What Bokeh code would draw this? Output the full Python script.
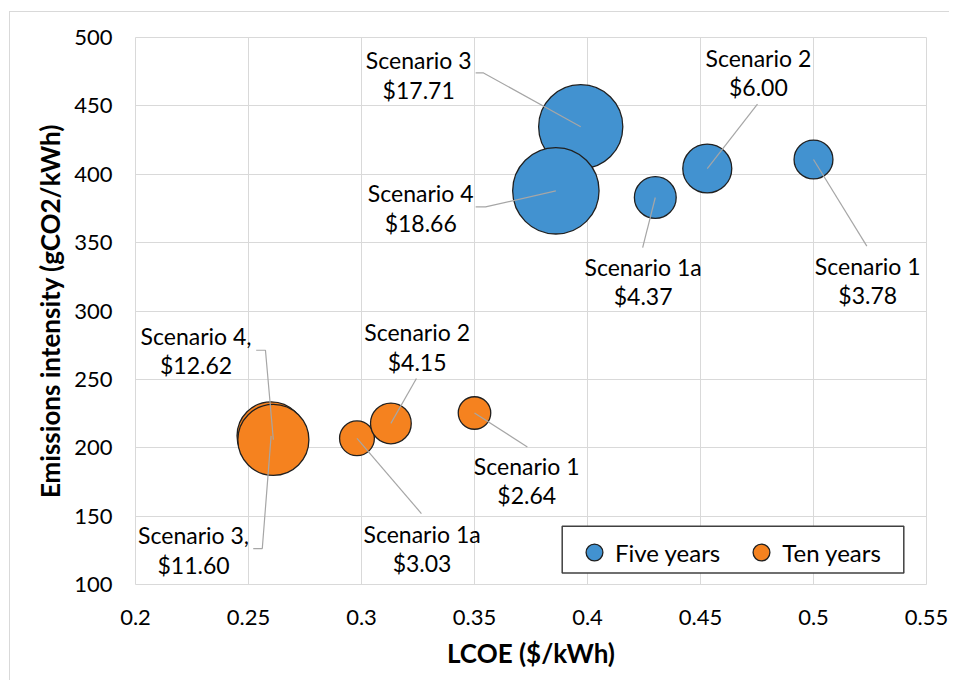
import math
from bokeh.plotting import figure
from bokeh.models import (ColumnDataSource, Legend, LegendItem, FixedTicker,
                          BoxAnnotation, Range1d)
from bokeh.core.properties import value
from bokeh.embed import file_html
from bokeh.resources import INLINE

# ---------------- data ----------------
scenarios = ["Scenario 1", "Scenario 1a", "Scenario 2", "Scenario 3", "Scenario 4"]

five_lcoe = [0.500, 0.430, 0.453, 0.397, 0.386]
five_emis = [410.8, 383.0, 404.2, 434.7, 387.9]
five_cost = [3.78, 4.37, 6.00, 17.71, 18.66]

ten_lcoe = [0.350, 0.298, 0.313, 0.260, 0.261]
ten_emis = [225.4, 206.9, 217.8, 208.7, 205.8]
ten_cost = [2.64, 3.03, 4.15, 11.60, 12.62]

five_names = ["Scenario 1", "Scenario 1a", "Scenario 2", "Scenario 3", "Scenario 4"]
ten_names = ["Scenario 1", "Scenario 1a", "Scenario 2", "Scenario 3,", "Scenario 4,"]

series_names = ["Five years", "Ten years"]

x_ticks = [0.2, 0.25, 0.3, 0.35, 0.4, 0.45, 0.5, 0.55]
x_tick_labels = ["0.2", "0.25", "0.3", "0.35", "0.4", "0.45", "0.5", "0.55"]
y_ticks = [100, 150, 200, 250, 300, 350, 400, 450, 500]
y_tick_labels = ["100", "150", "200", "250", "300", "350", "400", "450", "500"]

# ------------- label layout (data coords of label centres / leader starts) -------------
five_label_x = [0.5240, 0.4246, 0.4756, 0.3253, 0.3262]
five_label_y = [322.5, 321.6, 474.6, 472.7, 375.4]
five_leader = [[(0.5236, 347.4)], [(0.4244, 346.4)], [(0.4752, 451.2)],
               [(0.3505, 474.1), (0.3540, 474.1)], [(0.3505, 376.1), (0.3549, 376.1)]]

ten_label_x = [0.3731, 0.3268, 0.3246, 0.2257, 0.2268]
ten_label_y = [176.1, 126.3, 273.7, 125.3, 271.3]
ten_leader = [[(0.3734, 200.6)], [(0.3265, 151.9)], [(0.3243, 250.6)],
              [(0.2521, 126.3), (0.2561, 126.3)], [(0.2534, 271.3), (0.2575, 271.3)]]

# ---------------- styles ----------------
BLUE = "#4292d0"
ORANGE = "#f5821f"
FONT = "Lato"
GRID = "#d9d9d9"
LEADER = "#a6a6a6"

p = figure(frame_width=791, frame_height=547,
           x_range=Range1d(0.2, 0.55), y_range=Range1d(100, 500),
           output_backend="svg", toolbar_location=None,
           min_border_left=125, min_border_top=25, min_border_right=23,
           min_border_bottom=96)
p.margin = (11, 0, 0, 9)
p.styles = {"border-left": "1px solid #d9d9d9", "border-top": "1px solid #d9d9d9"}
p.outline_line_color = GRID
p.background_fill_color = "white"
p.border_fill_color = "white"

for ax, ticks, labels in ((p.xaxis, x_ticks, x_tick_labels), (p.yaxis, y_ticks, y_tick_labels)):
    ax.ticker = FixedTicker(ticks=ticks)
    ax.major_label_overrides = {t: l for t, l in zip(ticks, labels)}
    ax.axis_line_color = None
    ax.major_tick_line_color = None
    ax.minor_tick_line_color = None
    ax.major_tick_out = 0
    ax.major_tick_in = 0
    ax.major_label_text_font = FONT
    ax.major_label_text_font_size = "22px"
    ax.major_label_text_color = "#000000"
    ax.axis_label_text_font = FONT
    ax.axis_label_text_font_size = "26px"
    ax.axis_label_text_font_style = "bold"
    ax.axis_label_text_color = "#000000"

p.xaxis.major_label_standoff = 25
p.yaxis.major_label_standoff = 23
p.xaxis.axis_label = "LCOE ($/kWh)"
p.yaxis.axis_label = "Emissions intensity (gCO2/kWh)"
p.xaxis.axis_label_standoff = 9
p.yaxis.axis_label_standoff = 5

p.xgrid.grid_line_color = GRID
p.ygrid.grid_line_color = GRID
p.xgrid.grid_line_width = 1
p.ygrid.grid_line_width = 1

renderers = []
for lcoe, emis, cost, color in ((five_lcoe, five_emis, five_cost, BLUE),
                                (ten_lcoe, ten_emis, ten_cost, ORANGE)):
    src = ColumnDataSource(dict(
        x=lcoe, y=emis, cost=cost,
        size=[20 * math.sqrt(c) for c in cost],
    ))
    r = p.scatter("x", "y", size="size", source=src, fill_color=color,
                  line_color="#202020", line_width=1.3)
    renderers.append(r)

for lcoe, emis, cost, names, lx, ly, leader in (
        (five_lcoe, five_emis, five_cost, five_names, five_label_x, five_label_y, five_leader),
        (ten_lcoe, ten_emis, ten_cost, ten_names, ten_label_x, ten_label_y, ten_leader)):
    xs = [[pt[0] for pt in lead] + [x] for lead, x in zip(leader, lcoe)]
    ys = [[pt[1] for pt in lead] + [y] for lead, y in zip(leader, emis)]
    p.multi_line(xs, ys, line_color=LEADER, line_width=1.2)
    lsrc = ColumnDataSource(dict(
        x=lx, y=ly, name=names, cost=[f"${c:.2f}" for c in cost]))
    p.text("x", "y", text="name", source=lsrc, text_font=value(FONT),
           text_font_size="23px", text_align="center", text_baseline="middle",
           y_offset=-14.7, text_color="#000000")
    p.text("x", "y", text="cost", source=lsrc, text_font=value(FONT),
           text_font_size="23px", text_align="center", text_baseline="middle",
           y_offset=14.7, text_color="#000000")

box = BoxAnnotation(left=426.7, right=768.3, bottom=11.6, top=58.3,
                    left_units="screen", right_units="screen",
                    bottom_units="screen", top_units="screen",
                    fill_color="white", fill_alpha=1.0,
                    line_color="#404040", line_alpha=1.0, line_width=1.5)
p.add_layout(box)

legend = Legend(items=[LegendItem(label=series_names[0], renderers=[renderers[0]]),
                       LegendItem(label=series_names[1], renderers=[renderers[1]])],
                orientation="horizontal", location=(438, 11),
                glyph_width=42, glyph_height=42, label_standoff=-5, spacing=20,
                padding=3, margin=0, border_line_color=None,
                background_fill_alpha=0,
                label_text_font=FONT, label_text_font_size="24px",
                label_text_color="#000000")
p.add_layout(legend, "center")

open("out.html", "w").write(file_html(p, INLINE))
